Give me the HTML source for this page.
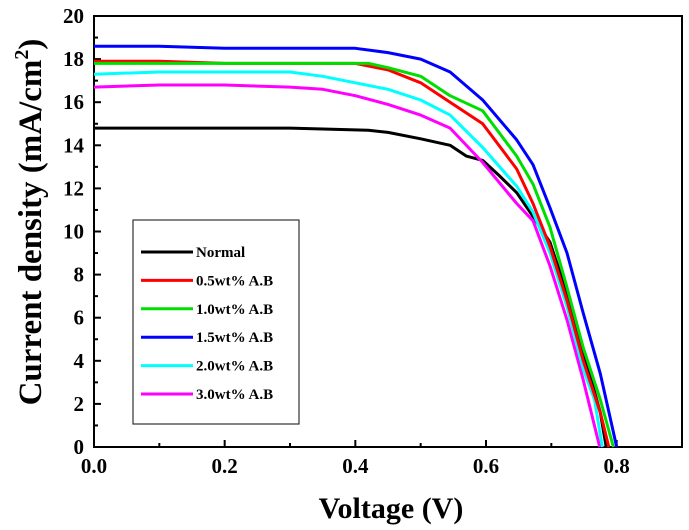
<!DOCTYPE html>
<html><head><meta charset="utf-8"><style>
html,body{margin:0;padding:0;background:#fff;}
svg{display:block;font-family:"Liberation Serif",serif;font-weight:bold;}
</style></head><body>
<svg id="chart" width="689" height="530" viewBox="0 0 689 530" xmlns="http://www.w3.org/2000/svg">
<g id="plot"></g>
</svg>
<script>
const seriesNames = ["Normal","0.5wt% A.B","1.0wt% A.B","1.5wt% A.B","2.0wt% A.B","3.0wt% A.B"];
const seriesColors = ["#000000","#ff0000","#00dd00","#0000ff","#00ffff","#ff00ff"];
const normalV = [0,0.1,0.2,0.3,0.42,0.45,0.5,0.545,0.57,0.595,0.62,0.647,0.672,0.698,0.724,0.749,0.775,0.784];
const normalJ = [14.8,14.8,14.8,14.8,14.7,14.6,14.3,14.0,13.5,13.3,12.6,11.8,10.7,9.5,7.1,4.4,1.6,0];
const ab05V = [0,0.1,0.2,0.3,0.4,0.45,0.5,0.545,0.595,0.647,0.672,0.698,0.724,0.749,0.775,0.788];
const ab05J = [17.9,17.9,17.8,17.8,17.8,17.5,16.9,16.0,15.0,12.9,11.3,9.3,6.8,4.0,1.6,0];
const ab10V = [0,0.1,0.2,0.3,0.42,0.45,0.5,0.545,0.595,0.647,0.672,0.698,0.724,0.749,0.775,0.795];
const ab10J = [17.8,17.8,17.8,17.8,17.8,17.6,17.2,16.3,15.6,13.5,12.2,10.2,7.4,4.6,2.2,0];
const ab15V = [0,0.1,0.2,0.3,0.4,0.45,0.5,0.545,0.595,0.647,0.672,0.698,0.724,0.749,0.775,0.8];
const ab15J = [18.6,18.6,18.5,18.5,18.5,18.3,18.0,17.4,16.1,14.25,13.1,11.1,9.0,6.2,3.4,0];
const ab20V = [0,0.1,0.2,0.3,0.35,0.4,0.45,0.5,0.545,0.595,0.647,0.672,0.698,0.724,0.749,0.766,0.778];
const ab20J = [17.3,17.4,17.4,17.4,17.2,16.9,16.6,16.1,15.4,13.9,12.1,10.9,9.0,6.5,3.6,2.2,0];
const ab30V = [0,0.1,0.2,0.3,0.35,0.4,0.45,0.5,0.545,0.595,0.647,0.672,0.698,0.724,0.749,0.774];
const ab30J = [16.7,16.8,16.8,16.7,16.6,16.3,15.9,15.4,14.8,13.2,11.3,10.5,8.4,5.9,3.1,0];
const xTicks = ["0.0","0.2","0.4","0.6","0.8"];
const yTicks = ["0","2","4","6","8","10","12","14","16","18","20"];

const NS="http://www.w3.org/2000/svg";
const L=94,R=682,T=16,B=447;
const xMax=0.9,yMax=20;
const xs=v=>L+v/xMax*(R-L);
const ys=v=>B-v/yMax*(B-T);
const g=document.getElementById('plot');
function mk(tag,attrs,parent){const e=document.createElementNS(NS,tag);for(const k in attrs)e.setAttribute(k,attrs[k]);(parent||g).appendChild(e);return e;}

const frame=mk('rect',{x:L,y:T,width:R-L,height:B-T,fill:'none',stroke:'#000','stroke-width':2});



for(let i=0;i<=9;i++){
  const v=i*0.1, x=xs(v), major=i%2===0;
  const t=mk('line',{x1:x,x2:x,y1:B,y2:B-(major?7:4),stroke:'#000','stroke-width':2});
  
  
}
xTicks.forEach(s=>{
  const t=mk('text',{x:xs(parseFloat(s)),y:B+26,'text-anchor':'middle','font-size':21});
  t.textContent=s;
  
  
});
for(let i=0;i<=20;i++){
  const y=ys(i), major=i%2===0;
  const t=mk('line',{x1:L,x2:L+(major?7:4),y1:y,y2:y,stroke:'#000','stroke-width':2});
  
  
}
yTicks.forEach(s=>{
  const t=mk('text',{x:84,y:ys(parseFloat(s))+7,'text-anchor':'end','font-size':21});
  t.textContent=s;
  
  
});
const xt=mk('text',{x:391,y:518,'text-anchor':'middle','font-size':30});
xt.textContent='Voltage (V)';


const yt=mk('text',{x:0,y:0,'text-anchor':'middle','font-size':33,transform:'translate(41,222) rotate(-90)'});
yt.innerHTML='Current density (mA/cm<tspan dy="-13" font-size="20">2</tspan><tspan dy="13">)</tspan>';



const allV=[normalV,ab05V,ab10V,ab15V,ab20V,ab30V];
const allJ=[normalJ,ab05J,ab10J,ab15J,ab20J,ab30J];
const order=[0,5,4,1,2,3];
order.forEach(i=>{
  const pts=allV[i].map((v,k)=>xs(v).toFixed(1)+','+ys(allJ[i][k]).toFixed(1)).join(' ');
  const p=mk('polyline',{points:pts,fill:'none',stroke:seriesColors[i],'stroke-width':3,'stroke-linejoin':'round'});
  
  
});

const lg=mk('g',{});


const lb=mk('rect',{x:133,y:220,width:166,height:204,fill:'#fff',stroke:'#333','stroke-width':1.2},lg);


seriesNames.forEach((n,i)=>{
  const y=252+i*28.4;
  const ln=mk('line',{x1:141,x2:193,y1:y,y2:y,stroke:seriesColors[i],'stroke-width':3},lg);
  
  
  const tx=mk('text',{x:196,y:y+5,'font-size':15},lg);
  tx.textContent=n;
  
  
});
</script>
</body></html>
